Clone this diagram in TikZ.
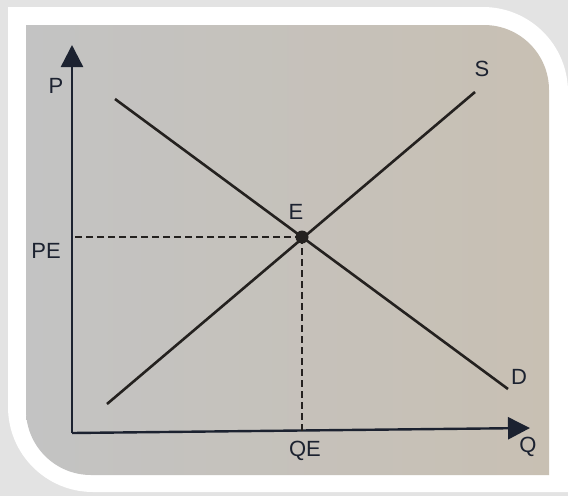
\documentclass[tikz,border=0pt]{standalone}
\usepackage{fontspec}
\setmainfont{Liberation Sans}
\usetikzlibrary{arrows.meta}
\definecolor{bggray}{HTML}{E3E3E3}
\definecolor{paperl}{HTML}{C3C3C3}
\definecolor{paperr}{HTML}{C8C0B3}
\definecolor{ink}{HTML}{1C2230}
\definecolor{pen}{HTML}{24211F}
\begin{document}
\begin{tikzpicture}[x=1pt,y=-1pt,
  lbl/.style={text=ink,font=\fontsize{22}{26}\selectfont,inner sep=0pt},
  axis/.style={line width=2.4pt,draw=ink,-{Triangle[length=22pt,width=22pt]}},
  curve/.style={line width=2.6pt,draw=pen},
  guide/.style={line width=2pt,draw=pen,dash pattern=on 7pt off 4pt}]
\useasboundingbox (0,0) rectangle (568,496);

% frame of the photo
\fill[bggray] (0,0) rectangle (568,496);
\fill[white] (8,7) -- (483,7) arc[start angle=-90,end angle=0,radius=85]
  -- (568,492) -- (93,492) arc[start angle=90,end angle=180,radius=85] -- cycle;
\shade[left color=paperl,right color=paperr] (26,25) -- (484,25)
  arc[start angle=-90,end angle=0,radius=65]
  -- (549,475) -- (91,475) arc[start angle=90,end angle=180,radius=65] -- cycle;

% axes
\coordinate (O) at (72,433);
\coordinate (Ptip) at (72,45);
\coordinate (Qtip) at (530,428);
\draw[axis] (O) -- (Ptip);
\draw[axis] (O) -- (Qtip);
\node[lbl] (P) at (56,86) {P};
\node[lbl] (Q) at (528,447) {Q};

% demand and supply
\coordinate (D0) at (115,99);
\coordinate (D1) at (508,389);
\coordinate (S0) at (107,404);
\coordinate (S1) at (475,92);
\draw[curve] (D0) -- (D1);
\draw[curve] (S0) -- (S1);
\node[lbl] (S) at (482,69) {S};
\node[lbl] (D) at (519,377) {D};

% equilibrium
\node[circle,fill=pen,inner sep=0pt,minimum size=13pt] (E) at (302,237) {};
\draw[guide] (E.center) -- (E.center -| O);
\draw[guide] (E.center) -- (E.center |- O);
\node[lbl] (Elbl) at (296,212) {E};
\node[lbl] (PE) at (46,251) {PE};
\node[lbl] (QE) at (305,451) {QE};
\end{tikzpicture}
\end{document}
